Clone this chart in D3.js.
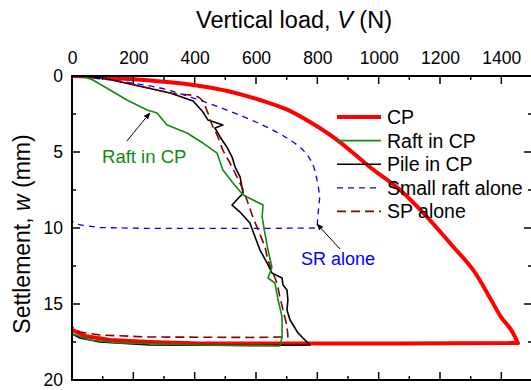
<!DOCTYPE html>
<html><head><meta charset="utf-8">
<script src="https://cdn.jsdelivr.net/npm/d3@7"></script>
<style>body{margin:0;background:#fff}svg{display:block;font-family:"Liberation Sans",Arial,sans-serif}</style>
</head><body><svg id="c" width="531" height="390"></svg>
<script>
// Data: [load V (N), settlement w (mm)] — loading branch then unloading branch
const cpV = [0,100,189,300,395,510,613,700,776,864,972,1070,1158,1233,1308,1366,1399,1432,1454,1070,417,254,124,42,0];
const cpW = [0,0.08,0.2,0.38,0.59,1.0,1.58,2.2,3.03,4.2,6.0,7.5,9.28,11.0,12.76,14.7,15.86,16.7,17.57,17.6,17.6,17.5,17.37,17.1,16.7];
const raftV = [0,42,68,124,179,245,277,310,375,427,473,492,525,558,623,620,629,639,652,639,662,672,685,685,678,417,157,59,3,0];
const raftW = [0,0.07,0.26,0.92,1.58,2.24,2.43,3.22,3.75,4.41,5.07,6.18,7.04,7.83,8.49,9.28,10.33,11.45,12.57,13.29,13.62,14.74,15.86,17.17,17.76,17.7,17.57,17.37,16.97,16.84];
const pileV = [0,101,232,320,395,427,443,473,492,466,483,505,522,532,548,554,558,522,548,580,597,613,636,652,685,688,701,704,701,711,737,753,776,580,254,91,26,0];
const pileW = [0,0.13,0.72,1.12,1.64,2.37,2.89,3.09,3.22,3.42,4.01,4.67,5.33,5.99,6.64,7.30,7.70,8.49,8.95,9.67,10.59,11.45,12.30,12.96,13.29,13.75,14.08,14.74,15.39,16.05,16.91,17.24,17.70,17.73,17.70,17.5,17.24,16.97];
const srV = [0,124,287,395,505,613,701,753,783,799,808,802,799,580,254,91,26,0];
const srW = [0,0.26,0.79,1.45,2.24,3.15,4.08,4.87,5.72,6.84,7.96,9.14,10.0,10.03,10.03,9.97,9.80,9.54];
const spV = [0,91,222,320,417,443,457,473,492,515,538,558,574,590,607,629,639,655,668,678,688,701,704,580,254,91,26,0];
const spW = [0,0.13,0.66,1.12,1.45,2.43,3.22,3.88,4.87,5.72,6.64,7.5,8.36,9.28,10.13,11.25,12.1,12.96,13.62,14.54,15.39,16.51,17.17,17.2,17.17,17.04,16.84,16.51];
const xTicks = [0,200,400,600,800,1000,1200,1400];
const yTicks = [0,5,10,15,20];
const seriesNames = ["CP","Raft in CP","Pile in CP","Small raft alone","SP alone"];

const svg = d3.select("#c");
const x = d3.scaleLinear().domain([0,1500]).range([72,532]);
const y = d3.scaleLinear().domain([0,20]).range([76,380]);
const zip = (a,b)=>a.map((v,i)=>[v,b[i]]);
const smooth = d3.curveCatmullRom.alpha(0.5);
// index of the peak-load point where the unloading branch starts
const peakIdx = (v)=>v.indexOf(d3.max(v.slice(0, v.length)));

const series = [
  {name:seriesNames[0], pts:zip(cpV,cpW), color:"#ff0000", w:4, dash:null, curve:smooth},
  {name:seriesNames[1], pts:zip(raftV,raftW), color:"#118a11", w:1.6, dash:null, curve:d3.curveLinear},
  {name:seriesNames[2], pts:zip(pileV,pileW), color:"#000000", w:1.6, dash:null, curve:d3.curveLinear},
  {name:seriesNames[3], pts:zip(srV,srW), color:"#0000ff", w:1.3, dash:"6,5", curve:smooth},
  {name:seriesNames[4], pts:zip(spV,spW), color:"#8b0000", w:1.6, dash:"9,5", curve:smooth}
];

const fontTick = 17.5;
const axTop = d3.axisTop(x).tickValues(xTicks).tickFormat(d3.format("d")).tickSize(0).tickPadding(12);
svg.append("g").attr("transform","translate(0,76)").call(axTop)
  .call(g=>{g.select(".domain").remove();g.selectAll("text").attr("font-size",fontTick).attr("font-family","Liberation Sans, Arial").attr("fill","#000");});
const axLeft = d3.axisLeft(y).tickValues(yTicks).tickFormat(d3.format("d")).tickSize(0).tickPadding(9);
svg.append("g").attr("transform","translate(72,0)").call(axLeft)
  .call(g=>{g.select(".domain").remove();g.selectAll("text").attr("font-size",fontTick).attr("font-family","Liberation Sans, Arial").attr("fill","#000");});

svg.append("clipPath").attr("id","pc").append("rect")
  .attr("x",x(0)).attr("y",y(0)).attr("width",x(1500)-x(0)).attr("height",y(20)-y(0));
const plot = svg.append("g").attr("clip-path","url(#pc)");

const order = [0,3,2,4,1];
order.forEach(i=>{
  const s = series[i];
  const vs = s.pts.map(p=>p[0]);
  const k = vs.indexOf(d3.max(vs));
  const load = s.pts.slice(0,k+1), unload = s.pts.slice(k);
  const ln = d3.line().x(d=>x(d[0])).y(d=>y(d[1]));
  const dstr = ln.curve(s.curve)(load) + ln.curve(d3.curveLinear)(unload).replace(/^M/,"L");
  plot.append("path").attr("d", dstr)
    .attr("fill","none").attr("stroke",s.color).attr("stroke-width",s.w)
    .attr("stroke-dasharray",s.dash).attr("stroke-linejoin","round");
});

const minorX = d3.range(0,1501,100), minorY = d3.range(0,20.01,2.5);
const tk = svg.append("g").attr("stroke","#000").attr("stroke-width",1.5);
minorX.forEach(v=>{
  const L = v%200===0?8:4;
  tk.append("line").attr("x1",x(v)).attr("x2",x(v)).attr("y1",y(0)).attr("y2",y(0)+L);
  tk.append("line").attr("x1",x(v)).attr("x2",x(v)).attr("y1",y(20)).attr("y2",y(20)-L);
});
minorY.forEach(v=>{
  const L = v%5===0?8:4;
  tk.append("line").attr("y1",y(v)).attr("y2",y(v)).attr("x1",x(0)).attr("x2",x(0)+L);
  tk.append("line").attr("y1",y(v)).attr("y2",y(v)).attr("x1",x(1500)).attr("x2",x(1500)-L);
});
svg.append("rect").attr("x",x(0)).attr("y",y(0)).attr("width",x(1500)-x(0)).attr("height",y(20)-y(0))
  .attr("fill","none").attr("stroke","#000").attr("stroke-width",2);

const t1 = svg.append("text").attr("x",294).attr("y",28).attr("text-anchor","middle").attr("font-size",23.5);
t1.append("tspan").text("Vertical load, ");
t1.append("tspan").attr("font-style","italic").text("V");
t1.append("tspan").text(" (N)");
const t2 = svg.append("text").attr("transform","translate(30,234) rotate(-90)").attr("text-anchor","middle").attr("font-size",23);
t2.append("tspan").text("Settlement, ");
t2.append("tspan").attr("font-style","italic").text("w");
t2.append("tspan").text(" (mm)");

const lg = svg.append("g");
series.forEach((s,i)=>{
  const yy = 117 + i*23.6;
  lg.append("line").attr("x1",337).attr("x2",381).attr("y1",yy).attr("y2",yy)
    .attr("stroke",s.color).attr("stroke-width",s.w).attr("stroke-dasharray",s.dash);
  lg.append("text").attr("x",387).attr("y",yy+7).attr("font-size",19.5).text(s.name);
});

svg.append("defs").append("marker").attr("id","ah").attr("viewBox","0 0 10 10").attr("refX",9).attr("refY",5)
  .attr("markerWidth",7).attr("markerHeight",7).attr("orient","auto")
  .append("path").attr("d","M0,1 L10,5 L0,9 Z").attr("fill","#000");
const arrows = [[[179,4.28],[254,2.43]],[[874,11.38],[799,9.74]]];
arrows.forEach(a=>{
  svg.append("line").attr("x1",x(a[0][0])).attr("y1",y(a[0][1])).attr("x2",x(a[1][0])).attr("y2",y(a[1][1]))
    .attr("stroke","#000").attr("stroke-width",1).attr("marker-end","url(#ah)");
});
svg.append("text").attr("x",x(98)).attr("y",y(5.75)).attr("font-size",18.5).attr("fill","#118a11").text("Raft in CP");
svg.append("text").attr("x",x(747)).attr("y",y(12.45)).attr("font-size",18).attr("fill","#0000ff").text("SR alone");
</script></body></html>
